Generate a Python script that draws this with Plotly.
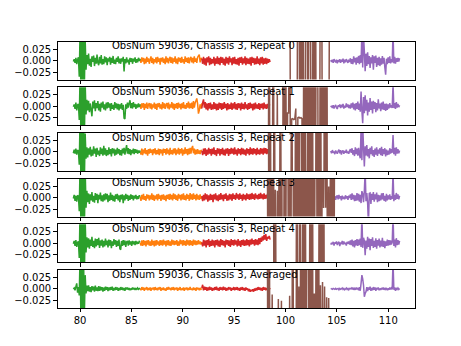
import numpy as np
import plotly.graph_objects as go

OBSNUM = 59036
CHASSIS = 3
PANEL_LABELS = ["Repeat 0", "Repeat 1", "Repeat 2", "Repeat 3", "Repeat 4", "Averaged"]

# Frequency span (GHz) covered by each spectral band
GREEN_SPAN = (79.35, 85.85)
ORANGE_SPAN = (85.85, 91.85)
RED_SPAN = (91.85, 98.5)
BROWN_SPAN = (98.2, 104.8)
PURPLE_SPAN = (104.4, 111.1)

X_TICKS = [80, 85, 90, 95, 100, 105, 110]
Y_TICKS = [-0.025, 0.0, 0.025]
Y_TICK_TEXT = ["\u22120.025", "0.000", "0.025"]

# Spectrum values, in units of 1e-3
U, D = 400, -400  # off-scale excursions of the brown band

green_rep0 = [-2, 3, -5, 6, -8, 2, 7, -35,
              70, -80, 60, -70, 80, -60, 45, -20,
              12, -8, 15, -11, 4, -14, 9, -3, 11, -12, 6, -7, 13, -5, -10, 8, -6, 12, -9, 3,
              -8, 9, -4, 7, -10, 5, -2, 8, -9, 6, -5, 10, -7, 2, -8, 6, -3, 9, -6, 4,
              -7, 5, -2, 8, -24, 3, -6, 7, -4, 2, -9, 6, -3, 5, -7, 4, -2, 7, -5, 3, -4, 6, -1, 4]
green_rep1 = [-1, 4, -6, 8, -9, 3, 5, -30,
              75, -80, 80, -80, 70, -75, 50, -18,
              14, -9, 12, -13, 6, -8, -22, 10, -5, 13, -11, 7, -4, 11, -9, 5, -12, 8, -3, 10,
              -7, 4, -9, 8, -5, 9, -3, 6, -10, 7, -6, 3, -8, 9, -4, 6, -7, 5, -9, 4,
              -5, 7, -8, 3, -26, -28, 4, -6, 8, -3, 6, 13, -4, 7, -5, 9, -2, 5, -6, 4, -3, 6, -2, 4]
green_rep2 = [-3, 5, -4, 7, -6, 4, 2, -28,
              80, -80, 75, -80, 80, -70, 40, -15,
              10, -12, 8, -6, 11, -10, 5, -8, 12, -4, 7, -11, 9, -6, 3, -9, 10, -5, 7, -8,
              13, -6, 8, -9, 4, -7, 10, -5, 6, -10, 8, -3, 7, -8, 5, -6, 9, -4, 6, -7,
              4, -8, 7, -3, 9, -6, 5, 15, -4, 8, -5, 6, -7, 4, -3, 7, -5, 6, -2, 5, -4, 3, -2, 3]
green_rep3 = [-2, 6, -7, 4, -9, 5, 3, -30,
              80, -80, 80, -75, 80, -80, 60, -22,
              15, -10, 9, -14, 7, -6, 12, -9, 4, -11, 10, -5, 8, -12, 6, -4, 11, -8, 5, -9,
              7, -6, 9, -4, 8, -10, 5, -7, 11, -5, 6, -8, 4, -9, 7, -3, 8, -6, 5, -10,
              6, -4, 7, -12, 5, -6, 8, -3, 6, -7, 4, -5, 7, -3, 5, -6, 4, -2, 6, -4, 3, -3, 5, 2]
green_rep4 = [-1, 5, -6, 7, -8, 2, 4, -32,
              80, -80, 75, -80, 70, -80, 50, -20,
              13, -9, 11, -12, 8, -6, 14, -8, 5, -11, 10, -7, 9, -4, 12, -10, 6, -5, 8, -9,
              5, -7, 10, -4, 6, -9, 8, -5, 7, -11, 4, -6, 9, -3, 7, -8, 5, -6, 8, -12,
              -14, 5, -6, 7, -4, 6, -8, 3, 5, -5, 6, -3, 4, -6, 5, -2, 4, -4, 5, -2, 3, -1, 4, 3]
green_avg = [0, 2, -3, 5, 12, -8, 4, -14,
             80, -80, 80, -80, 80, -60, 30, -10,
             7, -5, 8, -6, 4, -7, 6, -3, 5, -6, 7, -4, 3, -5, 6, -4, 5, -3, 4, -6,
             3, -4, 5, -2, 4, -5, 3, -3, 4, -2, 5, -4, 2, -3, 4, -2, 3, -4, 2, -3,
             4, -2, 3, -3, 2, -4, 3, -1, 3, -2, 2, -3, 1, -2, 3, -1, 2, -2, 1, -1, 2, -1, 1, 0]

orange_rep0 = [3, -5, 7, -2, 6, -8, 4, -6, 8, -3, 5, -7, 2, 9, -5, 6, -8, 3, -4, 7,
               -6, 8, -3, 5, -9, 6, -2, 7, -5, 4, -8, 9, -4, 6, -6, 3, 8, -5, 7, -7,
               5, -3, 9, -6, 4, -8, 7, -2, 6, -5, 8, -4, 3, -7, 9, -3, 6, -5, 7, -6,
               4, 8, -4, 6, -6, 9, -3, 5, -5, 7, 10, 13, -4, 6, 2]
orange_rep1 = [4, -6, 6, -3, 7, -8, 5, -4, 8, -6, 3, 7, -5, 6, -7, 4, -3, 8, -6, 5,
               -8, 6, -2, 7, -5, 4, -7, 9, -4, 6, -6, 3, 7, -5, 8, -7, 4, -3, 9, -5,
               6, -8, 5, -4, 7, -6, 8, -3, 5, -7, 6, -4, 9, -5, 3, -6, 7, -3, 10, -5,
               6, -4, 8, -6, 11, -3, 7, 12, 17, 5, -16, -9, 4, -5, 6]
orange_rep2 = [1, -6, 7, -7, 5, -3, 8, -5, 4, -8, 6, -4, 7, -2, 5, -7, 6, -3, 8, -6,
               4, -5, 7, -7, 6, -3, 5, -8, 7, -2, 6, -6, 8, -4, 5, -7, 9, -5, 4, -6,
               7, -3, 8, -7, 5, -4, 9, -6, 6, -3, 8, -8, 5, -5, 10, -4, 6, -7, 7, -5,
               9, -4, 8, 13, -3, 7, -6, 5, -5, 6, -4, 3, -5, 4, 2]
orange_rep3 = [2, -7, 6, -4, 8, -5, 3, -7, 7, -2, 6, -6, 5, -4, 9, -5, 6, -7, 4, -3,
               7, -6, 8, -3, 5, -7, 6, -4, 7, -5, 4, -8, 6, -3, 7, -5, 8, -4, 6, -6,
               9, -3, 7, -5, 5, -7, 8, -2, 6, -6, 7, -4, 9, -5, 5, -6, 8, -3, 6, -7,
               10, -4, 7, -5, 9, -3, 6, -6, 8, -4, 5, -5, 7, -3, 3]
orange_rep4 = [2, -5, 6, -6, 7, -4, 5, -7, 6, -3, 7, -5, 4, -6, 8, -4, 5, -7, 6, -5,
               7, -3, 4, -6, 7, -4, 6, -5, 8, -3, 5, -7, 6, -4, 7, -5, 4, -6, 8, -3,
               6, -4, 5, -3, 7, -6, 4, -5, 8, -2, 6, -5, 7, -4, 5, -6, 8, -3, 6, -5,
               7, -4, 5, -6, 8, -3, 6, -4, 5, -3, 7, -2, 4, -3, 3]
orange_avg = [1, -3, 4, -2, 3, -4, 2, -1, 4, -3, 2, -2, 3, -4, 2, -1, 3, -3, 4, -2,
              2, -3, 3, -1, 4, -4, 2, -2, 3, -3, 1, -4, 3, -2, 4, -1, 2, -3, 3, -2,
              4, -3, 2, -1, 3, -4, 2, -2, 4, -3, 1, -2, 3, -4, 2, -1, 3, -3, 2, -2,
              4, -2, 1, -3, 3, -2, 2, -4, 3, -1, 2, -3, 2, -1, 1]

red_rep0 = [4, -7, 8, -9, 5, -11, 7, -4, 9, -10, 6, -8, 3, -6, 8, -11, 5, -7, 9, -8,
            6, -10, 8, -5, 7, -9, 4, -11, 8, -6, 6, -9, 9, -4, 5, -10, 7, -7, 8, -8,
            3, -9, 6, -11, 7, -5, 8, -9, 5, -6, 9, -10, 6, -7, 4, -8, 7, -11, 8, -5,
            6, -9, 5, -8, 9, -7, 4, -10, 7, -6, 8, -9, 5, -7, 6, -8, 4, -5, 3, -3]
red_rep1 = [-5, 8, 15, -3, 9, -7, 6, -9, 7, -5, 8, -8, 4, -7, 9, -6, 6, -9, 5, -8,
            8, -5, 7, -8, 6, -6, 9, -4, 5, -9, 7, -7, 4, -6, 8, -8, 6, -5, 9, -7,
            5, -8, 7, -4, 6, -9, 8, -6, 5, -7, 9, -5, 4, -8, 7, -6, 8, -4, 5, -9,
            6, -7, 8, -5, 4, -6, 7, -8, 5, -4, 6, -7, 8, -5, 4, -6, 5, -4, 3, 2]
red_rep2 = [2, -7, 7, -5, 8, -9, 5, -6, 9, -4, 6, -8, 7, -5, 10, -6, 4, -9, 8, -4,
            7, -8, 6, -5, 9, -7, 5, -8, 7, -4, 8, -9, 6, -5, 9, -4, 7, -6, 10, -5,
            5, -8, 8, -4, 6, -7, 9, -5, 7, -6, 5, -8, 8, -4, 6, -7, 10, -5, 7, -6,
            8, -4, 6, -7, 9, -5, 5, -6, 8, -4, 7, -6, 9, -3, 8, -5, 6, -4, 7, 2]
red_rep3 = [3, -8, 6, -6, 9, -4, 7, -9, 5, -6, 8, -5, 6, -10, 7, -4, 9, -6, 5, -8,
            7, -5, 10, -4, 6, -8, 7, -3, 9, -7, 5, -6, 8, -4, 7, -7, 9, -3, 6, -5,
            10, -2, 7, -5, 9, -3, 6, -7, 8, -4, 6, -6, 9, -3, 7, -5, 8, -4, 10, -3,
            7, -5, 9, -2, 6, -4, 8, -3, 10, -2, 7, -4, 9, -3, 6, -2, 8, -3, 5, 2]
red_rep4 = [2, -7, 8, -5, 6, -9, 7, -4, 9, -8, 5, -6, 8, -5, 6, -9, 7, -4, 8, -7,
            6, -8, 9, -4, 7, -5, 5, -9, 8, -3, 7, -6, 6, -8, 9, -4, 7, -5, 8, -3,
            6, -7, 9, -5, 5, -8, 7, -4, 8, -6, 6, -5, 9, -4, 7, -7, 8, -3, 10, -2,
            7, -5, 9, -3, 8, -4, 11, -2, 12, 3, 15, 6, 18, 8, 20, 5, 14, 10, 16, 8]
red_avg = [2, 9, -3, 5, -2, 4, -4, 3, -3, 5, -2, 3, -4, 2, -3, 4, -2, 5, -3, 2,
           -4, 4, -2, 3, -3, 5, -2, 3, -4, 2, -3, 4, -1, 3, -4, 2, -2, 4, -3, 3,
           -2, 4, -3, 2, -4, 3, -2, 4, -3, 2, -4, 3, -2, 1, -5, 0, -6, -2, -5, -1,
           -6, 1, -4, 2, -3, 4, -2, 3, -3, 2, -4, 4, -2, 3, -3, 2, -2, 3, -1, 2]

brown_rep0 = [U, U, U, U, U, U, U, U, U, U,
              U, U, U, U, U, U, U, U, U, U,
              U, U, U, D, D, D, D, D, D, D,
              U, U, D, U, D, U, D, D, U, U,
              D, U, U, D, D, U, D, U, D, D,
              D, D, U, U, D, D, D, D, D, D,
              D, U, U, U, U, U, U]
brown_rep1 = [D, D, U, D, D, D, U, D, D, D,
              25, D, D, D, D, D, U, D, U, D,
              -15, -15, U, D, -28, -27, -29, -28, -5, D,
              -25, -24, -26, -25, -27, D, U, D, U, D,
              U, D, U, D, U, D, U, D, U, U,
              D, D, U, D, U, D, U, D, U, D,
              D, D, D, D, D, D, D]
brown_rep2 = [U, U, D, U, D, D, D, U, D, D,
              D, D, D, U, D, D, D, D, D, D,
              D, D, D, D, U, D, D, D, U, D,
              U, D, U, U, D, U, D, U, D, D,
              U, D, U, D, U, D, D, D, U, D,
              U, D, U, D, D, D, U, D, U, D,
              D, D, D, D, D, D, D]
brown_rep3 = [U, D, U, D, U, D, U, D, 17, D,
              15, D, U, D, U, D, D, U, D, U,
              U, D, U, D, U, U, D, U, D, U,
              D, U, D, U, D, U, D, U, D, U,
              D, U, D, U, D, U, D, U, U, D,
              U, D, U, D, U, -23, U, -22, U, D,
              24, D, U, D, U, D, U]
brown_rep4 = [U, U, U, U, U, U, U, D, U, D,
              D, D, D, D, D, D, D, D, D, D,
              D, D, D, D, D, D, D, D, D, U,
              D, D, U, D, D, U, D, U, D, D,
              D, D, U, D, U, D, D, D, D, D,
              D, U, D, U, D, U, D, D, D, D,
              D, D, D, D, D, D, D]
brown_avg = [U, D, U, D, D, -12, D, D, D, D,
             D, -22, D, D, -26, D, D, D, D, D,
             D, D, -15, D, D, U, D, D, D, U,
             D, 5, D, U, D, U, D, U, D, U,
             U, D, U, D, U, D, -10, D, U, D,
             U, D, 8, D, 15, D, 5, D, -18, D,
             -20, D, D, D, D, D, D]

purple_rep0 = [1, -3, 2, -5, 3, -1, -4, 2, -6, 1, -3, 3, -5, 0, -2, 4, -6, 2, -4, 3, -1, -5, 2, -3,
               5, -7, 3, -8, 9, -4, 6, -9, 7, -5, 10, -8, 12,
               -5, 60, -15, 55, 20, -23, 15, -12,
               18, -8, 10, -16, 7, -6, 12, -20, 9, -5, 11, -14, 6, -10, 8, -12, 5, -9, 10, -7, 6, -15, -31,
               4, -8, 7, -5, 9, -6, 3, -4,
               60, -6,
               8, -7, 5, -3, 6, -2, 5]
purple_rep1 = [-2, 1, -4, 2, -5, 0, 3, -3, -6, 2, -1, 4, -4, 3, -2, 5, -5, 1, -3, 6, -2, 4, -4, 3,
               -5, 6, -3, 8, -7, 5, -9, 7, -6, 10, -8, 6, -12,
               32, -10, -37, 20, -15, 24, -10, 14,
               -20, 8, -12, 18, -8, 10, -16, 12, -6, 9, -13, 7, -9, 15, -5, 6, -11, 8, -7, 10, -8, 5, -10,
               6, -8, 4, -5, 7, -3, 2, -4,
               50, -4,
               7, -6, 9, -3, 5, -2, 2]
purple_rep2 = [2, -3, 4, -2, 1, -5, 3, -1, -4, 2, 5, -3, 4, -6, 1, 3, -4, 2, -2, 5, -3, 1, -4, 3,
               6, -2, 8, -6, 4, -9, 10, -5, 7, -8, 9, -6, -14,
               50, -18, 60, 10, -32, 12, -8, 15,
               -10, 6, -14, 9, -5, 12, -8, 4, -11, 7, -6, 10, -9, 5, -4, 8, -7, 11, -9, 6, -5, 8, -10,
               5, -7, 3, -6, 8, -4, 6, -2,
               37, -5,
               9, -8, 10, -4, 6, -3, 3]
purple_rep3 = [0, 2, -3, 4, -1, 3, -5, 2, 5, -4, 6, -2, 3, -6, 4, -3, 2, -4, 5, -2, 3, -5, 4, -1,
               7, -5, 9, -4, 6, -8, 5, -7, 10, -6, 8, -9, 6,
               -12, 14, 8, -10, 14, 60, -8, 10,
               -12, -60, 9, 10, -14, 8, -5, 12, -9, 7, -4, 11, -10, 6, -8, 5, -6, 9, -4, 10, -7, 4, -9,
               8, -6, 5, -4, 7, -5, 3, -3,
               55, -8,
               6, -5, 10, -3, 7, -4, 4]
purple_rep4 = [-3, 1, -2, 3, -5, 2, -1, 4, -4, 1, 3, -6, 2, -2, 5, -3, 4, -2, 1, -5, 3, -1, 4, -3,
               6, -4, 8, -7, 5, -9, 7, -5, 9, -6, 8, -4, 10,
               -8, 60, -10, 12, 5, -26, 6, -12,
               14, -8, 10, -15, 9, -6, 13, -10, 5, -8, 11, -12, 7, -5, 10, -9, 6, -7, 12, -8, 5, -11, 4,
               -6, 8, -5, 7, -4, 6, -3, 2,
               60, -6,
               8, -9, 11, -4, 7, -3, 5]
purple_avg = [1, 0, -1, 1, 0, -1, 1, -1, 0, 1, -2, 1, -1, 0, 2, -1, 1, -2, 0, 2, -1, 1, -2, 1,
              0, 2, -1, 3, -2, 1, -2, 3, -1, 2, -3, 4, -4,
              12, 30, 22, 8, -17, -10, -6, 4,
              -5, 3, -2, 5, -4, 2, -3, 4, -2, 3, -4, 2, -1, 3, -3, 1, -2, 2, -1, 3, -2, 2, -1,
              2, -3, 1, -2, 3, -1, 2, -1,
              60, -2,
              3, -4, 2, -1, 2, -1, 1]

SCALE = 1e-3

COLORS = {
    "orange": "#ff7f0e",
    "green": "#2ca02c",
    "red": "#d62728",
    "purple": "#9467bd",
    "brown": "#8c564b",
}
SPANS = {
    "orange": ORANGE_SPAN,
    "green": GREEN_SPAN,
    "red": RED_SPAN,
    "purple": PURPLE_SPAN,
    "brown": BROWN_SPAN,
}

panels = [
    {"orange": orange_rep0, "green": green_rep0, "red": red_rep0, "purple": purple_rep0, "brown": brown_rep0},
    {"orange": orange_rep1, "green": green_rep1, "red": red_rep1, "purple": purple_rep1, "brown": brown_rep1},
    {"orange": orange_rep2, "green": green_rep2, "red": red_rep2, "purple": purple_rep2, "brown": brown_rep2},
    {"orange": orange_rep3, "green": green_rep3, "red": red_rep3, "purple": purple_rep3, "brown": brown_rep3},
    {"orange": orange_rep4, "green": green_rep4, "red": red_rep4, "purple": purple_rep4, "brown": brown_rep4},
    {"orange": orange_avg, "green": green_avg, "red": red_avg, "purple": purple_avg, "brown": brown_avg},
]

FONT = dict(family="DejaVu Sans", size=10, color="black")
X_RANGE = [77.82, 112.59]
Y_RANGE = [-0.0415, 0.0415]

fig = go.Figure()
layout = dict(
    width=461, height=346,
    margin=dict(l=0, r=0, t=0, b=0),
    paper_bgcolor="white", plot_bgcolor="white",
    showlegend=False, font=FONT,
    annotations=[],
)

n_panels = len(panels)
for k, band in enumerate(panels):
    sfx = "" if k == 0 else str(k + 1)
    xref, yref = "x" + sfx, "y" + sfx
    for name in ["orange", "green", "red", "purple", "brown"]:
        vals = np.asarray(band[name], dtype=float) * SCALE
        lo, hi = SPANS[name]
        freq = np.linspace(lo, hi, len(vals))
        fig.add_trace(go.Scatter(
            x=freq, y=vals, mode="lines",
            line=dict(color=COLORS[name], width=1.5, simplify=False),
            xaxis=xref, yaxis=yref, hoverinfo="skip",
        ))

    top = 0.88 - k * 0.132
    bottom = top - 0.11
    axis_common = dict(
        showline=True, mirror=True, linecolor="black", linewidth=0.8,
        ticks="outside", ticklen=3.5, tickwidth=0.8, tickcolor="black",
        showgrid=False, zeroline=False, tickfont=FONT,
    )
    layout["xaxis" + sfx] = dict(
        domain=[0.125, 0.9], range=X_RANGE, anchor=yref,
        tickmode="array", tickvals=X_TICKS, ticktext=[str(v) for v in X_TICKS],
        showticklabels=(k == n_panels - 1), **axis_common,
    )
    layout["yaxis" + sfx] = dict(
        domain=[bottom, top], range=Y_RANGE, anchor=xref,
        tickmode="array", tickvals=Y_TICKS, ticktext=Y_TICK_TEXT,
        **axis_common,
    )
    layout["annotations"].append(dict(
        text=f"ObsNum {OBSNUM}, Chassis {CHASSIS}, {PANEL_LABELS[k]}",
        x=82.95, y=0.032, xref=xref, yref=yref,
        xanchor="left", yanchor="middle", showarrow=False, font=FONT,
    ))

fig.update_layout(**layout)
fig.write_html("out.html", config={"displayModeBar": False})
